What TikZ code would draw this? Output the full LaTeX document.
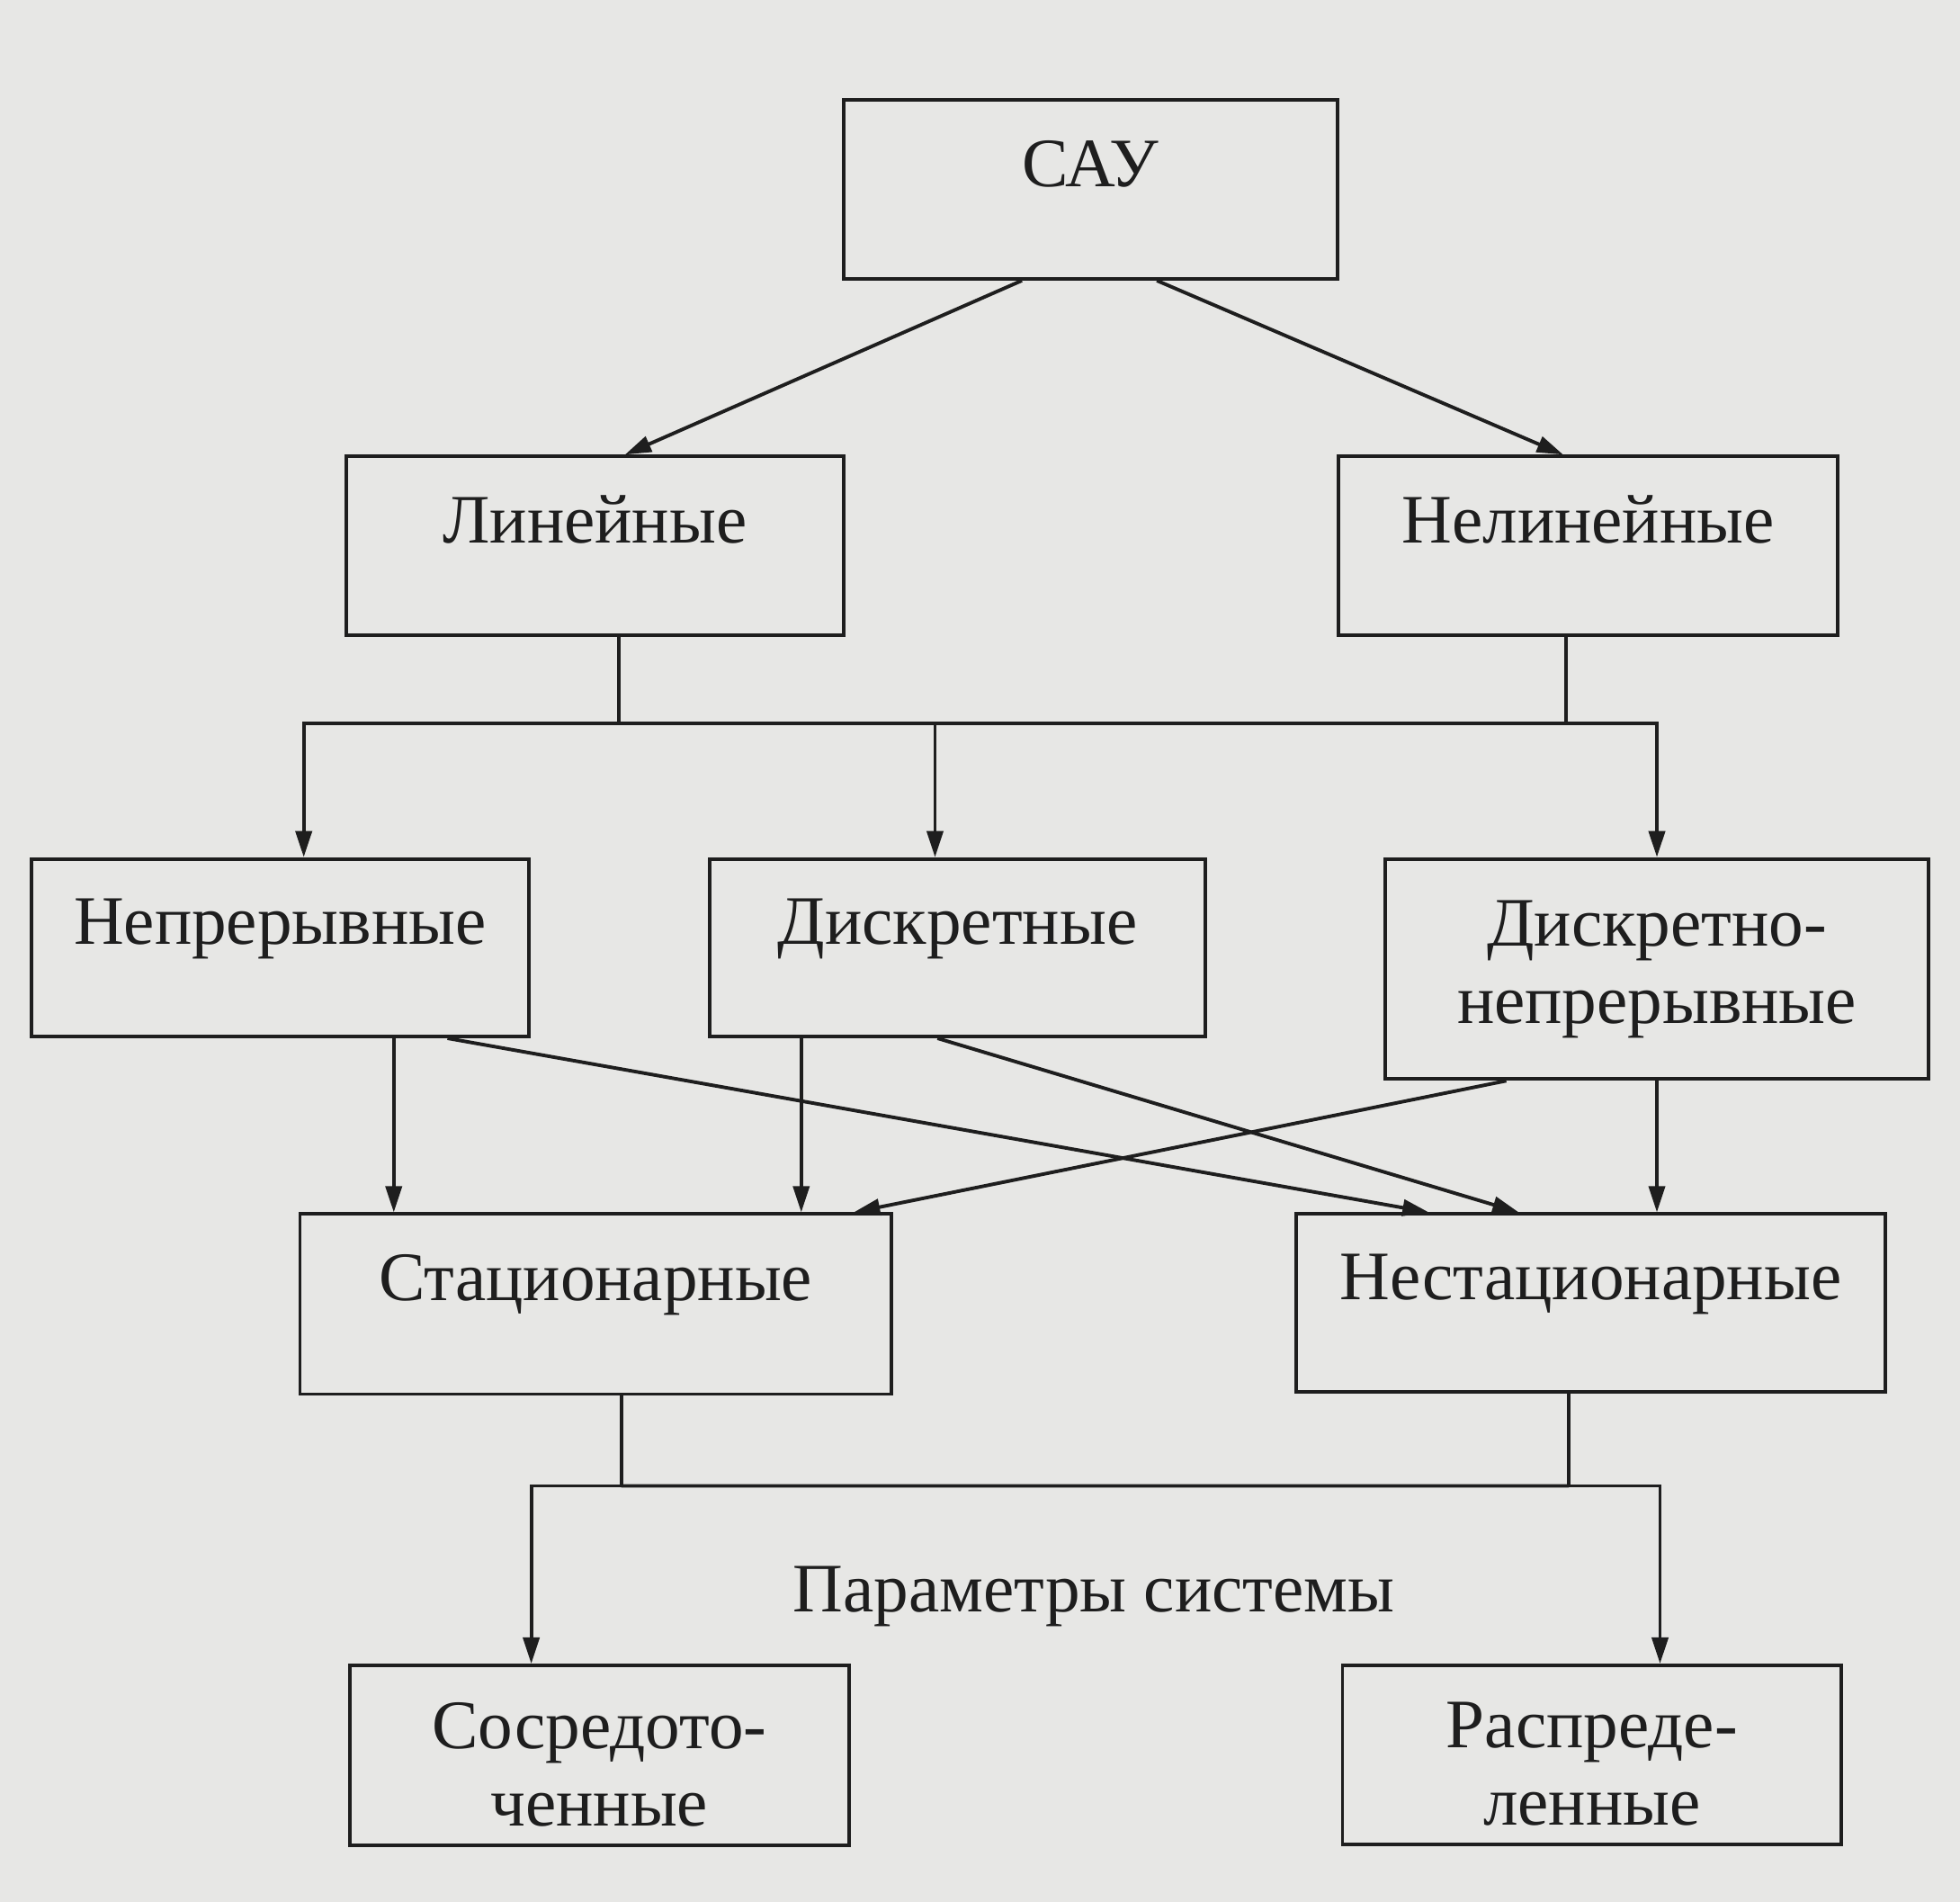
\documentclass[tikz,border=0pt]{standalone}
\usepackage{fontspec}
\setmainfont{Liberation Serif}
\usetikzlibrary{arrows.meta}

\definecolor{paper}{RGB}{231,231,229}
\definecolor{ink}{RGB}{30,30,30}

\newcommand{\lowtxt}[1]{\raisebox{-0.7mm}[\height][\depth]{#1}}

\tikzset{
    box/.style={draw=ink, line width=0.8pt, inner sep=0pt, text=ink,
        font=\fontsize{15.8}{17.6}\selectfont},
    onebox/.style={box, text height=0.45cm, text depth=0.5cm},
    twobox/.style={box, align=center},
    arr/.style={draw=ink, line width=0.8pt, -{Triangle[length=2.1mm,width=1.3mm]}},
    ln/.style={draw=ink, line width=0.8pt}
}

\begin{document}
\begin{tikzpicture}
        \fill[paper] (0, 0) rectangle (15.68, -15.21);
        \useasboundingbox (0, 0) rectangle (15.68, -15.21);

        \node[onebox, minimum width=3.95cm, minimum height=1.43cm] (sau) at (8.725, -1.515) {САУ};
        \node[onebox, minimum width=3.98cm, minimum height=1.43cm] (lin) at (4.76, -4.365) {Линейные};
        \node[onebox, minimum width=3.99cm, minimum height=1.43cm] (nlin) at (12.705, -4.365) {Нелинейные};
        \node[onebox, minimum width=3.98cm, minimum height=1.42cm] (nepr) at (2.24, -7.58) {Непрерывные};
        \node[onebox, minimum width=3.96cm, minimum height=1.42cm] (diskr) at (7.66, -7.58) {Дискретные};
        \node[twobox, minimum width=4.35cm, minimum height=1.76cm] (dn) at (13.255, -7.75) {Дискретно-\\непрерывные};
        \node[onebox, minimum width=4.73cm, minimum height=1.44cm] (stac) at (4.765, -10.43) {Стационарные};
        \node[onebox, minimum width=4.71cm, minimum height=1.42cm] (nstac) at (12.725, -10.42) {Нестационарные};
        \node[twobox, minimum width=3.99cm, minimum height=1.44cm] (sosr) at (4.795, -14.04) {\lowtxt{Сосредото-}\\\lowtxt{ченные}};
        \node[twobox, minimum width=3.99cm, minimum height=1.43cm] (raspr) at (12.735, -14.035) {\lowtxt{Распреде-}\\\lowtxt{ленные}};
        \node[text=ink, font=\fontsize{15.8}{17.6}\selectfont] (param) at (8.75, -12.77) {Параметры системы};

        % first level
        \draw[arr] ([xshift=-5.5mm]sau.south) -- ([xshift=2.4mm]lin.north);
        \draw[arr] ([xshift=5.3mm]sau.south) -- ([xshift=-2mm]nlin.north);

        % bus under linear / nonlinear
        \draw[ln] ([xshift=1.9mm]lin.south) -- ++(0, -0.69) coordinate (busL);
        \draw[ln] ([xshift=-1.75mm]nlin.south) -- ++(0, -0.69) coordinate (busR);
        \draw[arr] (busL) -| ([xshift=1.9mm]nepr.north);
        \draw[arr] (busR) -| (dn.north);
        \draw[ln] (busL) -- (busR);
        \draw[arr] ([xshift=-1.8mm]diskr.north |- busL) -- ([xshift=-1.8mm]diskr.north);

        % to stationary / nonstationary
        \draw[arr] ([xshift=9.1mm]nepr.south) -- ([xshift=9.1mm]nepr.south |- stac.north);
        \draw[arr] ([xshift=13.4mm]nepr.south) -- ([xshift=-12.95mm]nstac.north);
        \draw[arr] ([xshift=-12.5mm]diskr.south) -- ([xshift=-12.5mm]diskr.south |- stac.north);
        \draw[arr] ([xshift=-1.6mm]diskr.south) -- ([xshift=-5.75mm]nstac.north);
        \draw[arr] ([xshift=-12.05mm]dn.south) -- ([xshift=20.65mm]stac.north);
        \draw[arr] (dn.south) -- (dn.south |- nstac.north);

        % system parameters
        \draw[ln] ([xshift=2.05mm]stac.south) -- ++(0, -0.72) coordinate (busS);
        \draw[ln] ([xshift=-1.75mm]nstac.south) -- ++(0, -0.74) coordinate (busN);
        \draw[arr] (busS) -| ([xshift=-5.45mm]sosr.north);
        \draw[arr] (busN) -| ([xshift=5.45mm]raspr.north);
        \draw[ln] (busS) -- (busN);
\end{tikzpicture}
\end{document}
